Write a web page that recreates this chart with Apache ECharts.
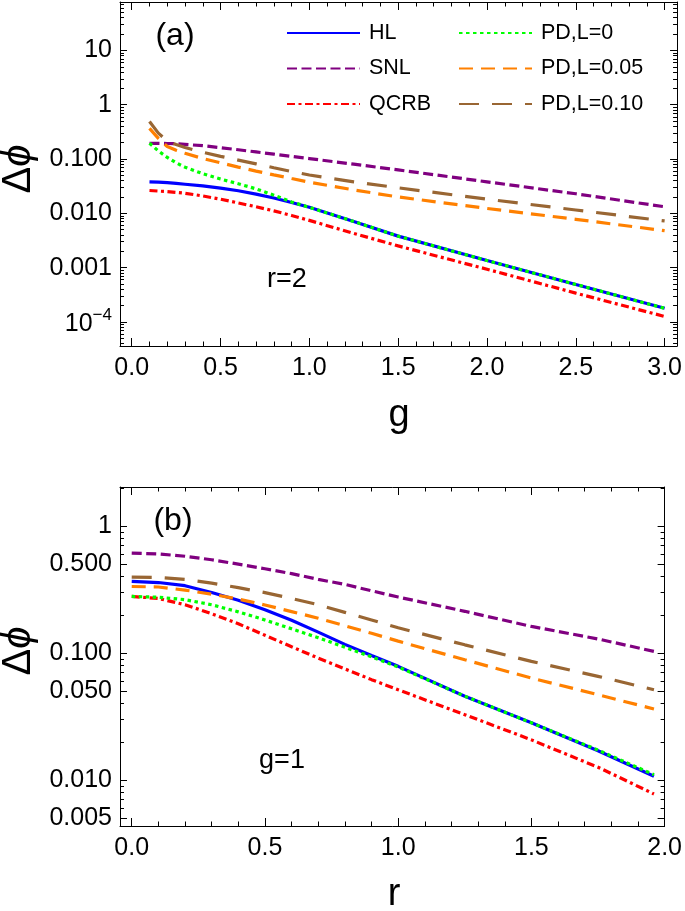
<!DOCTYPE html>
<html>
<head>
<meta charset="utf-8">
<script src="https://cdn.jsdelivr.net/npm/echarts@6/dist/echarts.min.js"></script>
<style>
  html, body { margin: 0; padding: 0; background: #fff; }
  #main { width: 685px; height: 911px; }
</style>
</head>
<body>
<div id="main"></div>
<script>
// ---- panel (a): r=2, horizontal axis g ----
var gA = [0.1, 0.15, 0.2, 0.25, 0.3, 0.4, 0.5, 0.6, 0.7, 0.8, 0.9, 1.0, 1.25, 1.5, 2.0, 2.5, 3.0];
var hlA = [0.0380, 0.0376, 0.0367, 0.0355, 0.0343, 0.0320, 0.0292, 0.0260, 0.0226, 0.0191, 0.0158, 0.0129, 0.00708, 0.00380, 0.00135, 0.000490, 0.000178];
var snlA = [0.195, 0.195, 0.193, 0.191, 0.186, 0.176, 0.162, 0.148, 0.135, 0.123, 0.112, 0.102, 0.0804, 0.0631, 0.0380, 0.0229, 0.0132];
var qcrbA = [0.0263, 0.0257, 0.0251, 0.0243, 0.0234, 0.0209, 0.0182, 0.0155, 0.0132, 0.0111, 0.00912, 0.00741, 0.00427, 0.00251, 0.000933, 0.000339, 0.000126];
var pd0A = [0.195, 0.141, 0.107, 0.0851, 0.0708, 0.0537, 0.0427, 0.0351, 0.0282, 0.0216, 0.0162, 0.0129, 0.00708, 0.00380, 0.00135, 0.000490, 0.000178];
var pd05A = [0.367, 0.240, 0.170, 0.145, 0.128, 0.102, 0.0850, 0.0710, 0.0600, 0.0510, 0.0437, 0.0375, 0.0270, 0.0200, 0.0123, 0.00776, 0.00479];
var pd10A = [0.490, 0.300, 0.215, 0.185, 0.163, 0.133, 0.112, 0.0955, 0.0813, 0.0691, 0.0589, 0.0507, 0.0380, 0.0295, 0.0182, 0.0115, 0.00724];

// ---- panel (b): g=1, horizontal axis r ----
var rB = [0, 0.1, 0.2, 0.3, 0.4, 0.5, 0.6, 0.7, 0.8, 0.9, 1.0, 1.25, 1.5, 1.75, 1.96];
var hlB = [0.366, 0.359, 0.339, 0.300, 0.260, 0.219, 0.181, 0.146, 0.117, 0.0955, 0.0785, 0.0457, 0.0282, 0.0170, 0.0107];
var snlB = [0.612, 0.603, 0.578, 0.543, 0.501, 0.461, 0.422, 0.380, 0.347, 0.309, 0.276, 0.213, 0.162, 0.129, 0.103];
var qcrbB = [0.279, 0.269, 0.240, 0.204, 0.170, 0.138, 0.112, 0.0912, 0.0750, 0.0617, 0.0513, 0.0327, 0.0207, 0.0126, 0.00776];
var pd0B = [0.279, 0.275, 0.263, 0.240, 0.211, 0.182, 0.155, 0.132, 0.111, 0.0933, 0.0776, 0.0457, 0.0282, 0.0172, 0.0110];
var pd05B = [0.334, 0.331, 0.313, 0.291, 0.266, 0.239, 0.212, 0.188, 0.164, 0.143, 0.124, 0.0885, 0.0635, 0.0470, 0.0362];
var pd10B = [0.396, 0.394, 0.380, 0.355, 0.327, 0.299, 0.269, 0.240, 0.209, 0.182, 0.158, 0.116, 0.0859, 0.0655, 0.0514];

// ---- ticks ----
var xMajorA = [0, 0.5, 1, 1.5, 2, 2.5, 3];
var xMinorA = [0.1, 0.2, 0.3, 0.4, 0.6, 0.7, 0.8, 0.9, 1.1, 1.2, 1.3, 1.4, 1.6, 1.7, 1.8, 1.9, 2.1, 2.2, 2.3, 2.4, 2.6, 2.7, 2.8, 2.9];
var xMajorB = [0, 0.5, 1, 1.5, 2];
var xMinorB = [0.1, 0.2, 0.3, 0.4, 0.6, 0.7, 0.8, 0.9, 1.1, 1.2, 1.3, 1.4, 1.6, 1.7, 1.8, 1.9];
var yMajorA = [1e-4, 1e-3, 0.01, 0.1, 1, 10];
var yLabelA = ['{m|10}{s|−4}', '0.001', '0.010', '0.100', '1', '10'];
var yMajorB = [0.005, 0.01, 0.05, 0.1, 0.5, 1];
var yLabelB = ['0.005', '0.010', '0.050', '0.100', '0.500', '1'];

var names = ['HL', 'SNL', 'QCRB', 'PD,L=0', 'PD,L=0.05', 'PD,L=0.10'];
var colors = ['#0000ff', '#800080', '#ff0000', '#00ff00', '#ff8000', '#996633'];
var dashes = ['solid', [10, 4.5], [8, 3.5, 3, 3.5], [3.5, 3.5], [14, 8], [20, 13]];

var FONT = 'Liberation Sans, Arial, sans-serif';
var LABEL_SIZE = 25;

// minor log ticks: k times each decade (skipping labelled ones)
function logMinor(lo, hi, skip) {
  var out = [];
  for (var e = -6; e <= 2; e++) {
    for (var k = 1; k <= 9; k++) {
      var v = k * Math.pow(10, e);
      if (v < lo || v > hi) continue;
      var hit = skip.some(function (s) { return Math.abs(s - v) / s < 1e-6; });
      if (!hit) out.push(v);
    }
  }
  return out;
}

function lookup(vals, texts) {
  return function (v) {
    for (var i = 0; i < vals.length; i++) {
      if (Math.abs(vals[i] - v) / vals[i] < 1e-4) return texts[i];
    }
    return '';
  };
}

function tick(len, values) {
  return { show: true, inside: true, length: len, customValues: values, lineStyle: { color: '#000', width: 1 } };
}

function xAxes(grid, min, max, major, minor) {
  function base(pos, line) {
    return {
      type: 'value', gridIndex: grid, min: min, max: max, position: pos,
      splitLine: { show: false },
      axisLine: { show: line, onZero: false, lineStyle: { color: '#000', width: 1 } },
      axisLabel: { show: false }
    };
  }
  var a = base('bottom', true);
  a.axisTick = tick(8, major);
  a.axisLabel = { show: true, customValues: major, margin: 10, fontSize: LABEL_SIZE, color: '#000', fontFamily: FONT,
    formatter: function (v) { return v.toFixed(1); } };
  var b = base('bottom', false);
  b.axisTick = tick(4.5, minor);
  var c = base('top', true);
  c.axisTick = tick(8, major);
  var d = base('top', false);
  d.axisTick = tick(4.5, minor);
  return [a, b, c, d];
}

function yAxes(grid, min, max, major, labels) {
  var minor = logMinor(min, max, major);
  function base(pos, line) {
    return {
      type: 'log', logBase: 10, gridIndex: grid, min: min, max: max, position: pos,
      splitLine: { show: false },
      axisLine: { show: line, onZero: false, lineStyle: { color: '#000', width: 1 } },
      axisLabel: { show: false }
    };
  }
  var a = base('left', true);
  a.axisTick = tick(7, major);
  a.axisLabel = { show: true, customValues: major, margin: 8, fontSize: LABEL_SIZE, color: '#000', fontFamily: FONT,
    formatter: lookup(major, labels),
    rich: {
      m: { fontSize: LABEL_SIZE, fontFamily: FONT, color: '#000', lineHeight: 30, verticalAlign: 'bottom' },
      s: { fontSize: 17, fontFamily: FONT, color: '#000', lineHeight: 30, verticalAlign: 'top' }
    } };
  var b = base('left', false);
  b.axisTick = tick(4, minor);
  var c = base('right', true);
  c.axisTick = tick(7, major);
  var d = base('right', false);
  d.axisTick = tick(4, minor);
  return [a, b, c, d];
}

function pairs(xs, ys) {
  return xs.map(function (x, i) { return [x, ys[i]]; });
}

function lines(xs, sets, axisIdx) {
  return sets.map(function (ys, i) {
    return {
      name: names[i], type: 'line', xAxisIndex: axisIdx, yAxisIndex: axisIdx,
      data: pairs(xs, ys), symbol: 'none', showSymbol: false, smooth: false,
      silent: true, animation: false,
      lineStyle: { color: colors[i], width: 3.2, type: dashes[i] },
      itemStyle: { color: colors[i] },
      z: i === 3 ? 4 : 3
    };
  });
}

var legendBase = {
  orient: 'vertical', itemWidth: 73, itemHeight: 14, itemGap: 11.5, padding: 0,
  selectedMode: false,
  itemStyle: { color: 'rgba(0,0,0,0)', borderWidth: 0, opacity: 0 },
  textStyle: { fontSize: 21.5, lineHeight: 24, color: '#000', fontFamily: FONT, padding: [0, 0, 0, 4] }
};

var chart = echarts.init(document.getElementById('main'));
chart.setOption({
  backgroundColor: '#fff',
  animation: false,
  grid: [
    { left: 120, top: 2, width: 559, height: 344 },
    { left: 120, top: 487, width: 547, height: 339 }
  ],
  xAxis: xAxes(0, -0.066, 3.07, xMajorA, xMinorA).concat(xAxes(1, -0.044, 2.0, xMajorB, xMinorB)),
  yAxis: yAxes(0, 3.6e-5, 78, yMajorA, yLabelA).concat(yAxes(1, 0.00434, 2.03, yMajorB, yLabelB)),
  legend: [
    Object.assign({}, legendBase, { left: 286, top: 21, data: names.slice(0, 3) }),
    Object.assign({}, legendBase, { left: 458, top: 21, data: names.slice(3) })
  ],
  series: lines(gA, [hlA, snlA, qcrbA, pd0A, pd05A, pd10A], 0)
    .concat(lines(rB, [hlB, snlB, qcrbB, pd0B, pd05B, pd10B], 4)),
  graphic: [
    { type: 'text', x: 175, y: 36, style: { text: '(a)', font: '32px ' + FONT, fill: '#000', align: 'center', verticalAlign: 'middle' } },
    { type: 'text', x: 287, y: 280, style: { text: 'r=2', font: '27px ' + FONT, fill: '#000', align: 'center', verticalAlign: 'middle' } },
    { type: 'text', x: 173, y: 521, style: { text: '(b)', font: '32px ' + FONT, fill: '#000', align: 'center', verticalAlign: 'middle' } },
    { type: 'text', x: 282, y: 761, style: { text: 'g=1', font: '27px ' + FONT, fill: '#000', align: 'center', verticalAlign: 'middle' } },
    { type: 'text', x: 399, y: 416, style: { text: 'g', font: '38px ' + FONT, fill: '#000', align: 'center', verticalAlign: 'middle' } },
    { type: 'text', x: 394, y: 895, style: { text: 'r', font: '38px ' + FONT, fill: '#000', align: 'center', verticalAlign: 'middle' } },
    { type: 'text', x: 19, y: 169, rotation: Math.PI / 2, style: { text: '{d|Δ}{p|ϕ}', align: 'center', verticalAlign: 'middle',
      rich: { d: { font: '40px ' + FONT, fill: '#000' }, p: { font: 'italic 40px ' + FONT, fill: '#000' } } } },
    { type: 'text', x: 19, y: 651, rotation: Math.PI / 2, style: { text: '{d|Δ}{p|ϕ}', align: 'center', verticalAlign: 'middle',
      rich: { d: { font: '40px ' + FONT, fill: '#000' }, p: { font: 'italic 40px ' + FONT, fill: '#000' } } } }
  ]
});
</script>
</body>
</html>
